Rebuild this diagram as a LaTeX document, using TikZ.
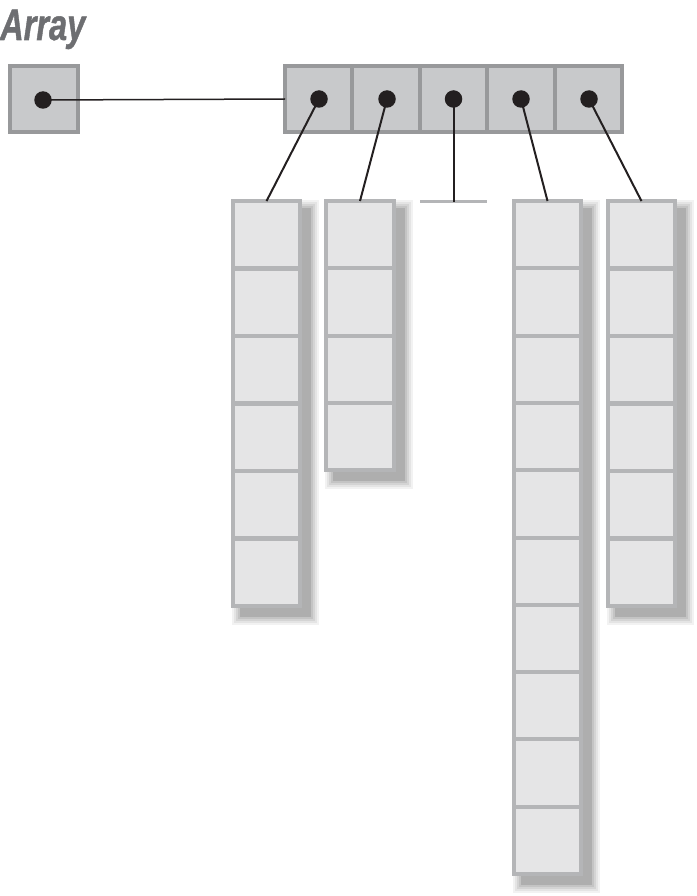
\documentclass[tikz,border=0pt]{standalone}
\usepackage{fontspec}
\setmainfont{Liberation Sans}
\newfontfamily\titlefont[FakeBold=1.2]{Liberation Sans Bold Italic}
\definecolor{topfill}{HTML}{C8C9CB}
\definecolor{topdraw}{HTML}{98999B}
\definecolor{colfill}{HTML}{E5E5E6}
\definecolor{coldraw}{HTML}{B4B5B7}
\definecolor{dotc}{HTML}{231F20}
\definecolor{titlec}{HTML}{6D6E71}
\definecolor{shA}{HTML}{F2F2F2}
\definecolor{shB}{HTML}{E4E4E4}
\definecolor{shC}{HTML}{D4D4D4}
\definecolor{shD}{HTML}{C4C4C4}
\definecolor{shE}{HTML}{AEAEAE}
\begin{document}
\begin{tikzpicture}[x=1pt,y=-1pt,
  topcell/.style={draw=topdraw,fill=topfill,line width=4pt,minimum width=67.4pt,minimum height=66pt,inner sep=0pt,outer sep=0pt},
  colcell/.style={draw=coldraw,fill=colfill,line width=4pt,minimum width=67pt,minimum height=67.3pt,inner sep=0pt,outer sep=0pt},
  dotnode/.style={circle,fill=dotc,minimum size=17.5pt,inner sep=0pt},
  link/.style={draw=dotc,line width=2pt},
  nullbar/.style={draw=coldraw,line width=3.5pt}]
\useasboundingbox (0,0) rectangle (696,896);
% title
\node[anchor=base west,inner sep=0pt,text=titlec,font=\fontsize{44}{44}\selectfont\titlefont] (title) at (0,40) {\scalebox{0.74}[1]{Array}};
% shadows
\newcommand\colshadow[4]{%
  \foreach \e/\c in {8/shA,6/shB,4/shC,2/shD,0/shE}{%
    \fill[\c] (#1+9-\e,#2+9-\e) rectangle (#3+9+\e,#4+9+\e);}}
\colshadow{231}{199}{302}{608}
\colshadow{324}{199}{396}{472}
\colshadow{512}{199}{583}{876}
\colshadow{606}{199}{677}{608}
% columns
\foreach \i in {1,...,6} \node[colcell] (a\i) at (266.5,{201+67.5*(\i-0.5)}) {};
\foreach \i in {1,...,4} \node[colcell,minimum width=68pt,minimum height=67.25pt] (b\i) at (360,{201+67.25*(\i-0.5)}) {};
\foreach \i in {1,...,10} \node[colcell] (d\i) at (547.5,{201+67.3*(\i-0.5)}) {};
\foreach \i in {1,...,6} \node[colcell] (e\i) at (641.5,{201+67.5*(\i-0.5)}) {};
% null bar
\coordinate (n0) at (420,201.5);
\coordinate (n1) at (487,201.5);
\draw[nullbar] (n0) -- (n1);
\coordinate (nmid) at (453.5,201.5);
% top array
\foreach \i in {1,...,5} \node[topcell] (t\i) at ({285+67.4*(\i-0.5)},99) {};
% left box
\node[topcell,minimum width=68pt] (lb) at (43.5,99) {};
% dot centres
\coordinate (p0) at (43,100);
\coordinate (p1) at (319,99);
\coordinate (p2) at (387,99);
\coordinate (p3) at (453.5,99);
\coordinate (p4) at (521,99);
\coordinate (p5) at (589,99);
% links
\draw[draw=dotc,line width=1.5pt] (p0) -- (t1.west);
\draw[link] (p1) -- (a1.north);
\draw[link] (p2) -- (b1.north);
\draw[link] (p3) -- (nmid);
\draw[link] (p4) -- (d1.north);
\draw[link] (p5) -- (e1.north);
% dots
\foreach \k in {0,...,5} \node[dotnode] (dot\k) at (p\k) {};
\end{tikzpicture}
\end{document}
